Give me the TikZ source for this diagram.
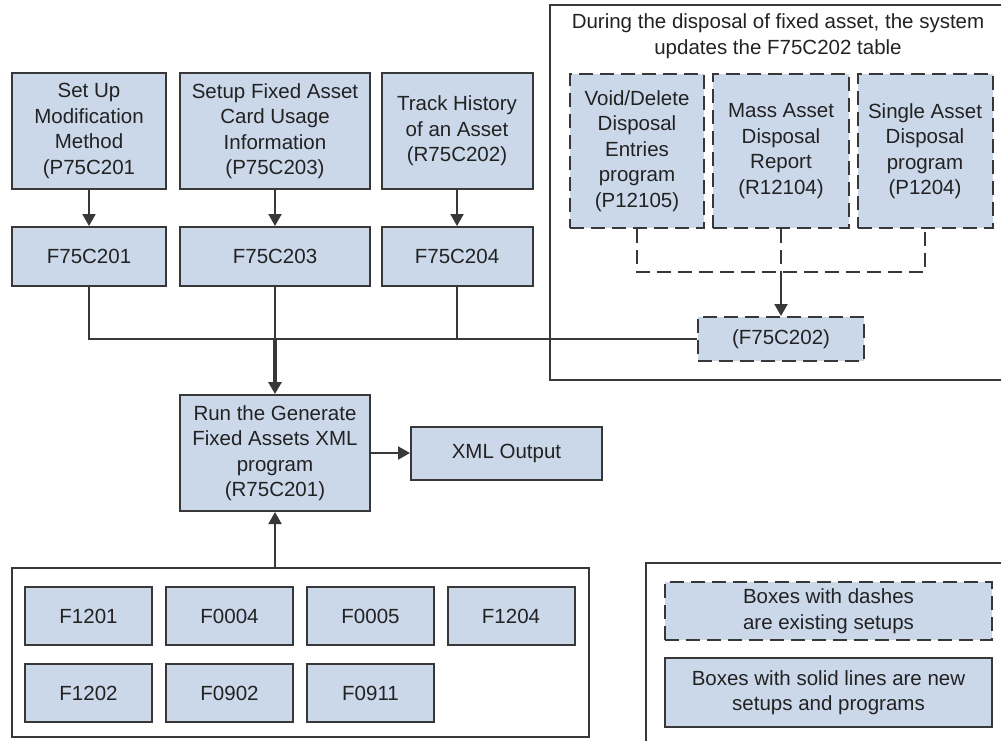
\documentclass[tikz,border=0pt]{standalone}
\usepackage{fontspec}
\setmainfont{Liberation Sans}
\usetikzlibrary{arrows.meta}
\definecolor{boxfill}{HTML}{CBD8EA}
\definecolor{edge}{HTML}{383838}
\definecolor{ink}{HTML}{222222}
\begin{document}
\begin{tikzpicture}[x=1pt,y=-1pt,
  every node/.style={font=\fontsize{20.5}{25.5}\selectfont, text=ink, align=center, inner sep=0pt},
  box/.style={draw=edge, line width=2pt, fill=boxfill},
  dbox/.style={box, dash pattern=on 14pt off 7pt},
  frame/.style={draw=edge, line width=2pt},
  link/.style={draw=edge, line width=2pt},
  arr/.style={link, -{Triangle[length=12pt,width=13pt]}},
]
\useasboundingbox (0,0) rectangle (1001,740);

% frames
\node[frame, minimum width=460pt, minimum height=375pt] (dispframe) at (780,192.5) {};
\node[frame, minimum width=577pt, minimum height=169pt] (tables) at (300.5,652.5) {};
\node[frame, minimum width=364pt, minimum height=187pt] (legend) at (828,656.5) {};

% setup programs
\node[box, minimum width=154pt, minimum height=116pt] (b1) at (89,131) {Set Up\\Modification\\Method\\(P75C201};
\node[box, minimum width=190pt, minimum height=116pt] (b2) at (275,131) {Setup Fixed Asset\\Card Usage\\Information\\(P75C203)};
\node[box, minimum width=151pt, minimum height=116pt] (b3) at (457,131) {Track History\\of an Asset\\(R75C202)};

% tables they write
\node[box, minimum width=154pt, minimum height=59pt] (t1) at (89,256.5) {F75C201};
\node[box, minimum width=190pt, minimum height=59pt] (t2) at (275,256.5) {F75C203};
\node[box, minimum width=151pt, minimum height=59pt] (t3) at (457,256.5) {F75C204};

% disposal programs
\node (title) at (778,36) {During the disposal of fixed asset, the system\\updates the F75C202 table};
\node[dbox, minimum width=134pt, minimum height=154pt] (dA) at (637,151) {Void/Delete\\Disposal\\Entries\\program\\(P12105)};
\node[dbox, minimum width=136pt, minimum height=154pt] (dB) at (781,151) {Mass Asset\\Disposal\\Report\\(R12104)};
\node[dbox, minimum width=135pt, minimum height=154pt] (dC) at (925,151) {Single Asset\\Disposal\\program\\(P1204)};
\node[dbox, minimum width=166pt, minimum height=44pt] (f202) at (781,339) {(F75C202)};

% XML generation
\node[box, minimum width=190pt, minimum height=116pt] (run) at (275,453) {Run the Generate\\Fixed Assets XML\\program\\(R75C201)};
\node[box, minimum width=191pt, minimum height=53pt] (xml) at (506.5,453) {XML Output};

% source tables
\foreach \name/\lbl/\cx/\cy in {
  s1/F1201/88.5/616, s2/F0004/229.5/616, s3/F0005/370.5/616, s4/F1204/511/616,
  s5/F1202/88.5/693, s6/F0902/229.5/693, s7/F0911/370.5/693}
  \node[box, minimum width=127pt, minimum height=58pt] (\name) at (\cx,\cy) {\lbl};

% legend
\node[dbox, minimum width=327pt, minimum height=58pt] (leg1) at (828.5,611) {Boxes with dashes\\are existing setups};
\node[box, minimum width=327pt, minimum height=69pt] (leg2) at (828.5,692.5) {Boxes with solid lines are new\\setups and programs};

% connectors
\draw[arr] (b1) -- (t1);
\draw[arr] (b2) -- (t2);
\draw[arr] (b3) -- (t3);

\coordinate (jn) at (275,339);
\draw[link] (t1.south) |- (f202.west);
\draw[link] (t3.south) -- (t3.south |- jn);
\draw[link] (t2.south) -- (jn);
\draw[link, line width=3.5pt, -{Triangle[length=12pt,width=13pt]}] (jn) -- (run.north);

\coordinate (br) at (781,272);
\draw[link, dash pattern=on 14pt off 7pt] (dA.south) |- (br) -| (dC.south);
\draw[link, dash pattern=on 14pt off 7pt] (dB.south) -- (br);
\draw[arr] (br) -- (f202.north);

\draw[arr] (run.east) -- (xml.west);
\draw[arr] (run.south |- tables.north) -- (run.south);
\end{tikzpicture}
\end{document}
